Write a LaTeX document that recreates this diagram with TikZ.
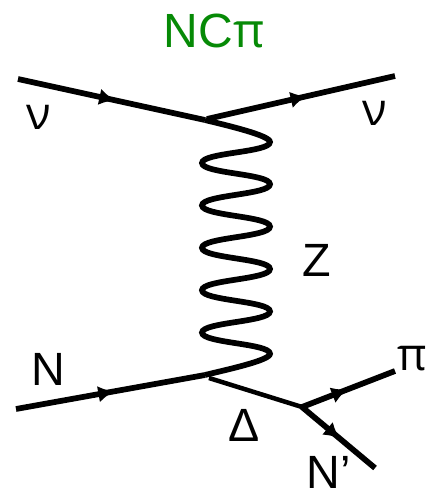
\documentclass[tikz,border=0pt]{standalone}
\usepackage{fontspec}
\setmainfont{Liberation Sans}
\newfontfamily\greekfont{Open Sans}
\usepackage{xcolor}
\usetikzlibrary{arrows.meta,decorations.markings}
\definecolor{titlegreen}{HTML}{068A06}

\begin{document}
\begin{tikzpicture}[x=0.75pt,y=-0.75pt,every node/.style={font=\fontsize{35}{35}\selectfont,inner sep=0pt}]
      \tikzstyle{fermion}=[line width=4.3pt,decoration={markings,mark=at position #1 with {\arrow{Latex[length=12pt,width=12.5pt]}}},postaction={decorate}];
      \tikzstyle{boson}=[line width=4.3pt];
      \tikzstyle{res}=[line width=3.4pt];
      \useasboundingbox (0,0) rectangle (427,497);
      \coordinate (inL)  at (18,79);
      \coordinate (vtxA) at (205,120);
      \coordinate (vtxB) at (207,119);
      \coordinate (outL) at (395,76);
      \coordinate (inN)  at (16,409);
      \coordinate (vtxC) at (205,375);
      \coordinate (vtxD) at (209,378);
      \coordinate (vtxE) at (302,407);
      \coordinate (outP) at (395,371);
      \coordinate (outN) at (375,468);
      \node[text=titlegreen,font=\fontsize{36}{36}\selectfont] (title) at (214,31) {NC{\greekfont\fontsize{36}{36}\selectfont π}};
      \node (nuL) at (39,117) {\greekfont\fontsize{34}{34}\selectfont ν};
      \node (nuR) at (375,113) {\greekfont\fontsize{34}{34}\selectfont ν};
      \node (zlab) at (317,260) {Z};
      \node (nlab) at (48,369) {N};
      \node (dlab) at (244,425) {Δ};
      \node (pilab) at (412,359) {\greekfont\fontsize{34}{34}\selectfont π};
      \node (nplab) at (329,472) {N’};
      \draw[fermion=0.52] (inL)--(vtxA);
      \draw[fermion=0.53] (vtxB)--(outL);
      \draw[fermion=0.52] (inN)--(vtxC);
      \draw[fermion=0.49] (vtxE)--(outP);
      \draw[fermion=0.52] (vtxE)--(outN);
      \draw[res] (vtxD)--(vtxE);
      \draw[boson] (vtxA) to[out=-14,in=90,out looseness=0.8,in looseness=0.25] (270,142)
        \foreach \i in {0,...,4} {
          to[out=-90,in=90,looseness=0.38] (202,{163+42.4*\i})
          to[out=-90,in=90,looseness=0.38] (270,{184.2+42.4*\i})
        }
        to[out=-90,in=14,out looseness=0.25,in looseness=0.8] (vtxC);
    \end{tikzpicture}
\end{document}
